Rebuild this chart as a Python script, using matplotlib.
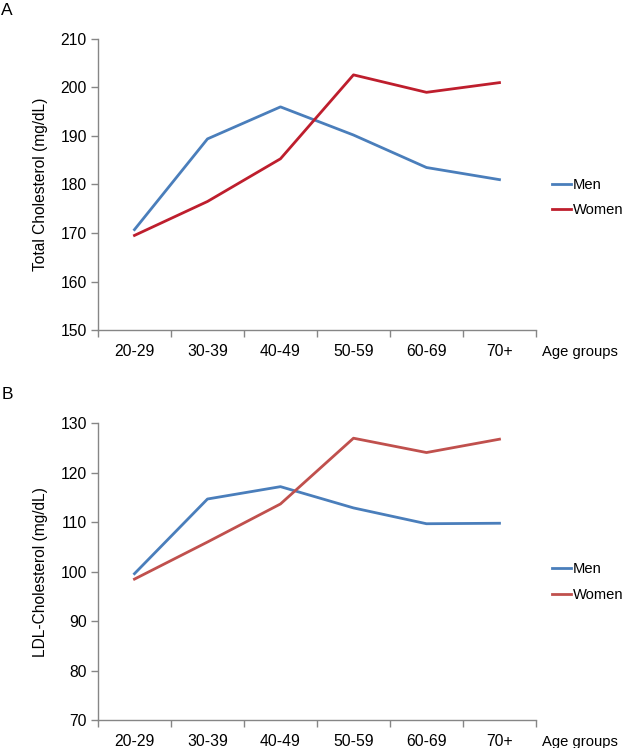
import numpy as np
import matplotlib
matplotlib.use('Agg')
import matplotlib.pyplot as plt

plt.rcParams['font.family'] = ['Liberation Sans', 'DejaVu Sans']

# Age groups and cholesterol means
ageGroups = ['20-29', '30-39', '40-49', '50-59', '60-69', '70+']
totalMen = [170.7, 189.4, 196.0, 190.2, 183.5, 181.0]
totalWomen = [169.5, 176.5, 185.3, 202.6, 199.0, 201.0]
ldlMen = [99.6, 114.7, 117.2, 112.9, 109.7, 109.8]
ldlWomen = [98.5, 106.0, 113.7, 127.0, 124.1, 126.8]

blue = '#4a7ebb'
axisGray = '#868686'


def drawPanel(ax, men, women, yMin, yMax, yLabel, womenColor, legendY):
    x = np.arange(len(ageGroups))
    lMen, = ax.plot(x, men, color=blue, lw=2.0, solid_joinstyle='round')
    lWomen, = ax.plot(x, women, color=womenColor, lw=2.0, solid_joinstyle='round')

    ax.set_xlim(-0.5, len(ageGroups) - 0.5)
    ax.set_ylim(yMin, yMax)
    ax.set_yticks(np.arange(yMin, yMax + 1, 10))

    # category labels between boundary ticks
    ax.set_xticks(np.arange(len(ageGroups) + 1) - 0.5)
    ax.set_xticklabels([])
    ax.set_xticks(x, minor=True)
    ax.set_xticklabels(ageGroups, minor=True)
    ax.tick_params(axis='x', which='minor', length=0, pad=10, labelsize=11.3)
    ax.tick_params(axis='x', which='major', length=5, width=1, color=axisGray, direction='out')
    ax.tick_params(axis='y', length=5, width=1, color=axisGray, direction='out', labelsize=11.3, pad=3)

    for side in ['top', 'right']:
        ax.spines[side].set_visible(False)
    for side in ['left', 'bottom']:
        ax.spines[side].set_color(axisGray)
        ax.spines[side].set_linewidth(1)

    ax.set_ylabel(yLabel, fontsize=11.2, labelpad=9)
    ax.annotate('Age groups', xy=(1.0, 0), xycoords='axes fraction', xytext=(4.5, -15.5),
                textcoords='offset points', ha='left', va='center', fontsize=10.6)

    ax.legend([lMen, lWomen], ['Men', 'Women'], loc='center left', bbox_to_anchor=(1.012, legendY),
              frameon=False, fontsize=10.6, handlelength=1.3, handletextpad=0.15, labelspacing=0.8,
              borderaxespad=0.3)


fig = plt.figure(figsize=(6.26, 7.48), dpi=100)
axA = fig.add_axes([0.1565, 0.5588, 0.6997, 0.3891])
axB = fig.add_axes([0.1565, 0.0374, 0.6997, 0.3966])

drawPanel(axA, totalMen, totalWomen, 150, 210, 'Total Cholesterol (mg/dL)', '#be1e2d', 0.455)
drawPanel(axB, ldlMen, ldlWomen, 70, 130, 'LDL-Cholesterol (mg/dL)', '#c0504d', 0.465)

fig.text(0.002, 0.9866, 'A', ha='left', va='center', fontsize=12.5)
fig.text(0.002, 0.472, 'B', ha='left', va='center', fontsize=12.5)

fig.savefig('out.png', dpi=100)
